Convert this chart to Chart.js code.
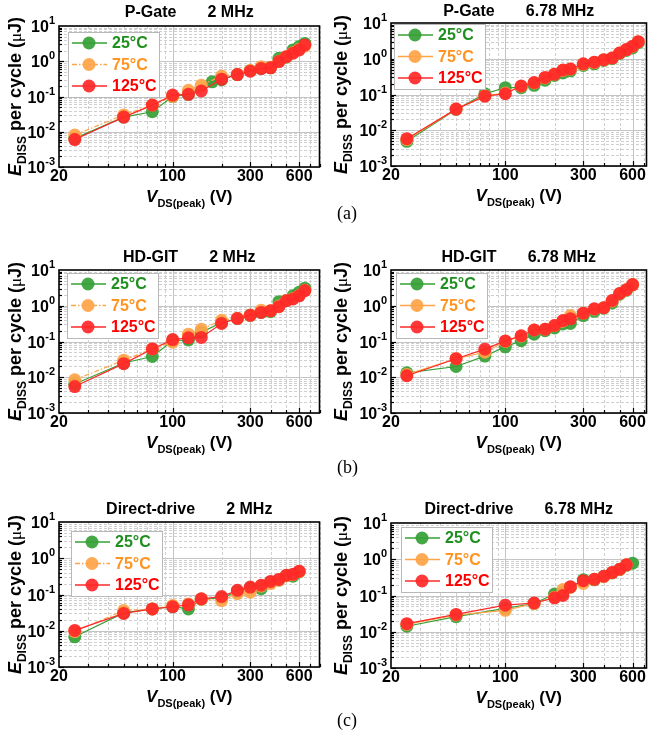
<!DOCTYPE html>
<html>
<head>
<meta charset="utf-8">
<script src="https://cdn.jsdelivr.net/npm/chart.js@4.4.1/dist/chart.umd.min.js"></script>
<style>
  html, body { margin: 0; padding: 0; background: #fff; }
  #fig { position: relative; width: 653px; height: 735px; overflow: hidden; }
  #fig canvas { position: absolute; }
  .tag { position: absolute; font-family: 'Liberation Serif', 'Times New Roman', serif; font-size: 18px; line-height: 18px; color: #000; }
</style>
</head>
<body>
<div id="fig">
  <canvas id="c1" width="326" height="235" style="left:0;top:0"></canvas>
  <canvas id="c2" width="327" height="235" style="left:326px;top:0"></canvas>
  <canvas id="c3" width="326" height="250" style="left:0;top:235px"></canvas>
  <canvas id="c4" width="327" height="250" style="left:326px;top:235px"></canvas>
  <canvas id="c5" width="326" height="250" style="left:0;top:485px"></canvas>
  <canvas id="c6" width="327" height="250" style="left:326px;top:485px"></canvas>
  <div class="tag" style="left:337px;top:204px">(a)</div>
  <div class="tag" style="left:337px;top:458px">(b)</div>
  <div class="tag" style="left:337px;top:711px">(c)</div>
</div>
<script>
// ---- data ----
const temps = ['25°C', '75°C', '125°C'];
const xTickLabels = [20, 100, 300, 600];
const yExponents = [1, 0, -1, -2, -3];

// P-Gate, 2 MHz
const vPg2 = [25, 50, 75, 100, 125, 150, 175, 200, 250, 300, 350, 400, 450, 500, 550, 600, 650];
const ePg2_25 = [0.0065, 0.026, 0.037, 0.10, 0.115, null, 0.26, 0.30, 0.42, 0.54, 0.63, 0.65, 1.21, 1.3, 2.1, 2.6, 3.2];
const ePg2_75 = [0.0081, 0.030, 0.057, 0.10, 0.15, 0.21, null, 0.38, 0.43, 0.55, 0.70, 0.68, 1.0, 1.35, 1.75, 2.2, 2.7];
const ePg2_125 = [0.0060, 0.026, 0.057, 0.11, 0.115, 0.143, null, 0.31, 0.42, 0.52, 0.62, 0.65, 0.98, 1.35, 1.7, 2.1, 2.9];

// P-Gate, 6.78 MHz
const vPg6 = [25, 50, 75, 100, 125, 150, 175, 200, 225, 250, 300, 350, 400, 450, 500, 550, 600, 650];
const ePg6_25 = [0.0049, 0.038, 0.105, 0.155, 0.155, 0.18, 0.25, 0.34, 0.40, 0.46, 0.65, 0.72, 0.90, 1.0, 1.4, 1.7, 2.0, 2.8];
const ePg6_75 = [0.0055, 0.039, 0.092, 0.11, 0.17, 0.21, 0.29, 0.37, 0.47, 0.51, 0.70, 0.78, 0.93, 1.05, 1.45, 1.8, 2.2, 3.0];
const ePg6_125 = [0.0058, 0.039, 0.09, 0.105, 0.173, 0.215, 0.30, 0.37, 0.485, 0.52, 0.72, 0.80, 0.94, 1.05, 1.45, 1.8, 2.25, 3.0];

// HD-GIT, 2 MHz
const vHd2 = [25, 50, 75, 100, 125, 150, 200, 250, 300, 350, 400, 450, 500, 550, 600, 650];
const eHd2_25 = [0.0065, 0.025, 0.038, 0.105, 0.11, 0.18, 0.34, 0.44, 0.54, 0.65, 0.68, 1.3, 1.4, 1.9, 2.4, 3.1];
const eHd2_75 = [0.0085, 0.030, 0.062, 0.096, 0.16, 0.22, 0.39, 0.45, 0.55, 0.75, 0.72, 0.98, 1.4, 1.6, 1.95, 2.7];
const eHd2_125 = [0.0055, 0.024, 0.062, 0.113, 0.127, 0.13, 0.32, 0.44, 0.54, 0.65, 0.72, 0.94, 1.38, 1.55, 1.9, 2.65];

// HD-GIT, 6.78 MHz
const vHd6 = [25, 50, 75, 100, 125, 150, 175, 200, 225, 250, 300, 350, 400, 450, 500, 550, 600];
const eHd6_25 = [0.0133, 0.020, 0.039, 0.071, 0.105, 0.16, 0.20, 0.24, 0.31, 0.32, 0.53, 0.70, 0.85, 1.2, 2.1, 2.7, 3.8];
const eHd6_75 = [0.012, 0.033, 0.05, 0.10, 0.14, 0.21, 0.22, 0.28, 0.37, 0.53, 0.62, 0.80, 0.88, 1.35, 2.2, 2.8, 3.9];
const eHd6_125 = [0.011, 0.033, 0.061, 0.104, 0.145, 0.21, 0.22, 0.28, 0.385, 0.43, 0.62, 0.82, 0.88, 1.4, 2.2, 2.8, 3.9];

// Direct-drive, 2 MHz
const vDd2 = [25, 50, 75, 100, 125, 150, 200, 250, 300, 350, 400, 450, 500, 550, 600];
const eDd2_25 = [0.0068, 0.031, 0.040, 0.046, 0.040, 0.074, 0.08, 0.12, 0.15, 0.145, 0.22, 0.25, 0.33, 0.32, 0.42];
const eDd2_75 = [0.0095, 0.036, 0.040, 0.050, 0.055, 0.075, 0.068, 0.105, 0.116, 0.17, 0.20, 0.25, 0.33, 0.35, 0.43];
const eDd2_125 = [0.0102, 0.030, 0.040, 0.046, 0.052, 0.076, 0.088, 0.13, 0.16, 0.18, 0.23, 0.26, 0.34, 0.36, 0.44];

// Direct-drive, 6.78 MHz
const vDd6 = [25, 50, 100, 150, 200, 225, 250, 300, 350, 400, 450, 500, 550, 600];
const eDd6_25 = [0.0142, 0.026, 0.044, 0.06, 0.11, 0.12, 0.17, 0.27, 0.27, 0.34, 0.42, 0.52, 0.68, 0.78];
const eDd6_75 = [0.016, 0.029, 0.039, 0.06, 0.09, 0.146, 0.17, 0.215, 0.28, 0.33, 0.43, 0.52, 0.70, null];
const eDd6_125 = [0.0167, 0.030, 0.054, 0.062, 0.086, 0.10, 0.174, 0.256, 0.28, 0.34, 0.43, 0.53, 0.70, null];

// ---- styles ----
const GREEN = '#35a035', ORANGE = '#ffa447', RED = '#ff2828';
const TEXT_GREEN = '#1f8f1f', TEXT_ORANGE = '#ff9422', TEXT_RED = '#ff0000';
const SANS = "'Liberation Sans', Arial, sans-serif";

const panels = [
  { id: 'c1', cx: 0, cy: 0, title: 'P-Gate       2 MHz', titleY: 13, area: { l: 59, r: 321, t: 26, b: 167 }, xMax: 800,
    yTitleX: 15, legend: { dx: 9, dy: 6 }, dashOrange: true, v: vPg2, e: [ePg2_25, ePg2_75, ePg2_125] },
  { id: 'c2', cx: 326, cy: 0, title: 'P-Gate       6.78 MHz', titleY: 12, area: { l: 391, r: 647, t: 23, b: 166 }, xMax: 730,
    yTitleX: 341, legend: { dx: 3, dy: 1 }, dashOrange: false, v: vPg6, e: [ePg6_25, ePg6_75, ePg6_125] },
  { id: 'c3', cx: 0, cy: 235, title: 'HD-GIT       2 MHz', titleY: 258, area: { l: 59, r: 321, t: 270, b: 413 }, xMax: 800,
    yTitleX: 15, legend: { dx: 8, dy: 3 }, dashOrange: true, v: vHd2, e: [eHd2_25, eHd2_75, eHd2_125] },
  { id: 'c4', cx: 326, cy: 235, title: 'HD-GIT       6.78 MHz', titleY: 258, area: { l: 391, r: 647, t: 270, b: 413 }, xMax: 730,
    yTitleX: 341, legend: { dx: 5, dy: 3 }, dashOrange: false, v: vHd6, e: [eHd6_25, eHd6_75, eHd6_125] },
  { id: 'c5', cx: 0, cy: 485, title: 'Direct-drive       2 MHz', titleY: 510, area: { l: 59, r: 321, t: 522, b: 667 }, xMax: 800,
    yTitleX: 15, legend: { dx: 12, dy: 9 }, dashOrange: true, v: vDd2, e: [eDd2_25, eDd2_75, eDd2_125] },
  { id: 'c6', cx: 326, cy: 485, title: 'Direct-drive       6.78 MHz', titleY: 510, area: { l: 391, r: 647, t: 523, b: 668 }, xMax: 730,
    yTitleX: 341, legend: { dx: 10, dy: 4 }, dashOrange: false, v: vDd6, e: [eDd6_25, eDd6_75, eDd6_125] },
];

// draws a run of text pieces (font, text, baseline shift) centred on x
function drawRuns(ctx, runs, x, y) {
  let total = 0;
  runs.forEach(r => { ctx.font = r.font; total += ctx.measureText(r.text).width; });
  let cur = x - total / 2;
  runs.forEach(r => {
    ctx.font = r.font;
    ctx.fillText(r.text, cur, y + (r.dy || 0));
    cur += ctx.measureText(r.text).width;
  });
}

// grid, frame, inward ticks, y labels, titles and legend
const framePlugin = {
  id: 'framePlugin',
  beforeDatasetsDraw(chart, args, o) {
    const { ctx, chartArea: a, scales: { x, y } } = chart;
    ctx.save();
    ctx.lineWidth = 1;
    // horizontal grid
    for (let e = -3; e <= 0; e++) {
      for (let k = 1; k <= 9; k++) {
        const py = Math.round(y.getPixelForValue(k * Math.pow(10, e))) + 0.5;
        ctx.strokeStyle = k === 1 ? '#c4c4c4' : '#cfcfcf';
        ctx.setLineDash(k === 1 ? [] : [3, 2]);
        ctx.beginPath(); ctx.moveTo(a.left, py); ctx.lineTo(a.right, py); ctx.stroke();
      }
    }
    // vertical grid
    const xs = [];
    for (let v = 30; v <= 90; v += 10) xs.push(v);
    for (let v = 100; v <= o.xMax; v += 100) xs.push(v);
    xs.forEach(v => {
      const px = Math.round(x.getPixelForValue(v)) + 0.5;
      const major = xTickLabels.includes(v);
      ctx.strokeStyle = major ? '#c4c4c4' : '#cfcfcf';
      ctx.setLineDash(major ? [] : [3, 2]);
      ctx.beginPath(); ctx.moveTo(px, a.top); ctx.lineTo(px, a.bottom); ctx.stroke();
    });
    ctx.setLineDash([]);
    // inward ticks
    ctx.strokeStyle = '#000';
    ctx.lineWidth = 1.2;
    xs.forEach(v => {
      const px = Math.round(x.getPixelForValue(v)) + 0.5;
      const len = xTickLabels.includes(v) ? 5 : 3;
      ctx.beginPath(); ctx.moveTo(px, a.bottom); ctx.lineTo(px, a.bottom - len); ctx.stroke();
    });
    for (let e = -3; e <= 0; e++) {
      for (let k = 1; k <= 9; k++) {
        const py = Math.round(y.getPixelForValue(k * Math.pow(10, e))) + 0.5;
        const len = k === 1 ? 5 : 3;
        ctx.beginPath(); ctx.moveTo(a.left, py); ctx.lineTo(a.left + len, py); ctx.stroke();
      }
    }
    ctx.restore();
  },
  afterDraw(chart, args, o) {
    const { ctx, chartArea: a, scales: { y } } = chart;
    ctx.save();
    // frame
    ctx.strokeStyle = '#000';
    ctx.lineWidth = 1.6;
    ctx.strokeRect(a.left, a.top, a.right - a.left, a.bottom - a.top);

    // y tick labels 10^n
    ctx.fillStyle = '#000';
    ctx.textBaseline = 'alphabetic';
    ctx.textAlign = 'left';
    yExponents.forEach(n => {
      const py = y.getPixelForValue(Math.pow(10, n));
      const sup = String(n);
      ctx.font = `bold 11px ${SANS}`;
      const sw = ctx.measureText(sup).width;
      ctx.font = `bold 16px ${SANS}`;
      const bw = ctx.measureText('10').width;
      const right = a.left - 4;
      ctx.fillText('10', right - sw - bw, py + 6);
      ctx.font = `bold 11px ${SANS}`;
      ctx.fillText(sup, right - sw, py - 2);
    });

    // panel title
    ctx.textAlign = 'center';
    ctx.textBaseline = 'middle';
    ctx.font = `bold 16px ${SANS}`;
    ctx.fillText(o.title, (a.left + a.right) / 2, o.titleY);

    // x axis title
    ctx.textAlign = 'left';
    ctx.textBaseline = 'alphabetic';
    drawRuns(ctx, [
      { text: 'V', font: `italic bold 17px ${SANS}` },
      { text: 'DS(peak)', font: `bold 11px ${SANS}`, dy: 5 },
      { text: ' (V)', font: `bold 17px ${SANS}` },
    ], (a.left + a.right) / 2, a.bottom + 35);

    // y axis title (rotated)
    ctx.save();
    ctx.translate(o.yTitleX, (a.top + a.bottom) / 2);
    ctx.rotate(-Math.PI / 2);
    drawRuns(ctx, [
      { text: 'E', font: `italic bold 18px ${SANS}` },
      { text: 'DISS', font: `bold 12px ${SANS}`, dy: 5 },
      { text: ' per cycle (', font: `bold 18px ${SANS}` },
      { text: 'μ', font: `17px 'Liberation Serif', serif` },
      { text: 'J)', font: `bold 18px ${SANS}` },
    ], 0, 6);
    ctx.restore();

    // legend
    const lx = a.left + o.legend.dx, ly = a.top + o.legend.dy;
    const lw = 91, lh = 65;
    ctx.fillStyle = '#fff';
    ctx.fillRect(lx, ly, lw, lh);
    ctx.strokeStyle = '#b8b8b8';
    ctx.lineWidth = 1;
    ctx.strokeRect(lx + 0.5, ly + 0.5, lw, lh);
    const textColors = [TEXT_GREEN, TEXT_ORANGE, TEXT_RED];
    const order = [2, 1, 0]; // datasets stored red, orange, green
    order.forEach((di, row) => {
      const ds = chart.data.datasets[di];
      const ry = ly + 11 + row * 21.5;
      ctx.strokeStyle = ds.borderColor;
      ctx.lineWidth = 1.3;
      ctx.setLineDash(ds.borderDash || []);
      ctx.beginPath(); ctx.moveTo(lx + 4, ry); ctx.lineTo(lx + 39, ry); ctx.stroke();
      ctx.setLineDash([]);
      ctx.fillStyle = ds.pointBackgroundColor;
      ctx.beginPath(); ctx.arc(lx + 21, ry, 6.5, 0, Math.PI * 2); ctx.fill();
      ctx.fillStyle = textColors[row];
      ctx.font = `bold 16px ${SANS}`;
      ctx.textBaseline = 'middle';
      ctx.textAlign = 'left';
      ctx.fillText(ds.label, lx + 44, ry + 1);
    });
    ctx.restore();
  },
};

function points(vs, es) {
  return vs.map((v, i) => ({ x: v, y: es[i] }));
}

function makePanel(p) {
  const canvas = document.getElementById(p.id);
  const cw = canvas.width, ch = canvas.height;
  const datasets = [
    { label: temps[2], data: points(p.v, p.e[2]), borderColor: RED, pointBackgroundColor: 'rgba(255,40,40,0.92)', order: 1 },
    { label: temps[1], data: points(p.v, p.e[1]), borderColor: ORANGE, pointBackgroundColor: 'rgba(255,164,71,0.92)', order: 2,
      borderDash: p.dashOrange ? [5, 2, 1.5, 2] : [] },
    { label: temps[0], data: points(p.v, p.e[0]), borderColor: GREEN, pointBackgroundColor: 'rgba(53,160,53,0.92)', order: 3 },
  ].map(d => Object.assign({
    borderWidth: 1.2, pointRadius: 6.5, pointBorderWidth: 0, pointBorderColor: 'transparent',
    spanGaps: true, tension: 0, fill: false,
  }, d));

  return new Chart(canvas, {
    type: 'line',
    data: { datasets },
    options: {
      responsive: false,
      animation: false,
      devicePixelRatio: 1,
      layout: { padding: { left: 0, right: p.cx + cw - p.area.r, top: p.area.t - p.cy, bottom: 0 } },
      scales: {
        x: {
          type: 'logarithmic', min: 20, max: p.xMax,
          grid: { display: false, drawTicks: false }, border: { display: false },
          ticks: {
            autoSkip: false, maxRotation: 0, padding: 0, color: '#000',
            font: { family: SANS, size: 16, weight: 'bold' },
            callback: (v) => xTickLabels.includes(Math.round(v)) ? String(Math.round(v)) : '',
          },
          afterFit: (s) => { s.height = p.cy + ch - p.area.b; },
        },
        y: {
          type: 'logarithmic', min: 0.001, max: 10,
          grid: { display: false }, border: { display: false },
          ticks: { display: false },
          afterFit: (s) => { s.width = p.area.l - p.cx; },
        },
      },
      plugins: {
        legend: { display: false },
        tooltip: { enabled: false },
        framePlugin: {
          title: p.title, titleY: p.titleY - p.cy, xMax: p.xMax, yTitleX: p.yTitleX - p.cx, legend: p.legend,
        },
      },
    },
    plugins: [framePlugin],
  });
}

panels.forEach(makePanel);
</script>
</body>
</html>
